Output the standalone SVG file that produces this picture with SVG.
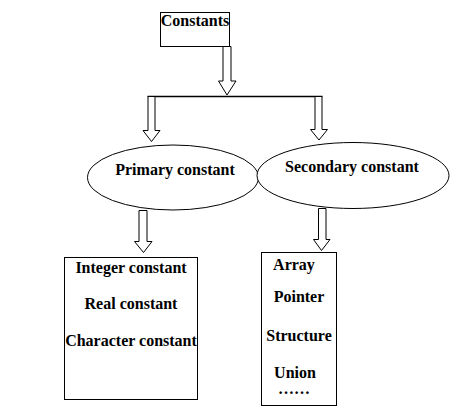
<svg xmlns="http://www.w3.org/2000/svg" width="464" height="411" viewBox="0 0 464 411">
<style>
.box{fill:#fff;stroke:#000;stroke-width:1}
.ell{fill:#fff;stroke:#000;stroke-width:1}
.arr{fill:#fff;stroke:#000;stroke-width:1}
.ln{fill:none;stroke:#000;stroke-width:1.5}
text{font-family:"Liberation Serif","Times New Roman",serif;font-weight:bold;font-size:16px;fill:#000;text-anchor:middle}
</style>
<rect width="464" height="411" fill="#fff"/>
<g id="connectors">
<polygon class="arr" points="223,46.5 231,46.5 231,81 236,81 227,95 218.5,81 223,81"/>
<line class="ln" x1="147.5" y1="96.5" x2="322.5" y2="96.5"/>
<polygon class="arr" points="148,96.5 155,96.5 155,130.5 160,130.5 151.5,141.5 143,130.5 148,130.5"/>
<polygon class="arr" points="315,96.5 322,96.5 322,129.5 327.5,129.5 319,140 310.5,129.5 315,129.5"/>
<polygon class="arr" points="139,210.5 147,210.5 147,241.5 152,241.5 143.5,252.5 134.5,241.5 139,241.5"/>
<polygon class="arr" points="318.5,208.5 326,208.5 326,239.5 330,239.5 321.5,250.5 313.5,239.5 318.5,239.5"/>
</g>
<g id="constants">
<rect class="box" x="160.5" y="12.5" width="69" height="34"/>
<text x="195" y="26">Constants</text>
</g>
<g id="primary">
<ellipse class="ell" cx="173" cy="177.5" rx="85.5" ry="32.5"/>
<text x="175" y="175">Primary constant</text>
</g>
<g id="secondary">
<ellipse class="ell" cx="353" cy="175.5" rx="96" ry="33"/>
<text x="352" y="172">Secondary constant</text>
</g>
<g id="primary-list">
<rect class="box" x="64.5" y="257.5" width="133" height="142"/>
<text x="131" y="273">Integer constant</text>
<text x="131" y="309">Real constant</text>
<text x="131" y="346">Character constant</text>
</g>
<g id="secondary-list">
<rect class="box" x="261.5" y="252.5" width="75" height="153"/>
<text x="294" y="270">Array</text>
<text x="299" y="302">Pointer</text>
<text x="299" y="341">Structure</text>
<text x="295" y="378">Union</text>
<text x="294" y="394">……</text>
</g>
</svg>
